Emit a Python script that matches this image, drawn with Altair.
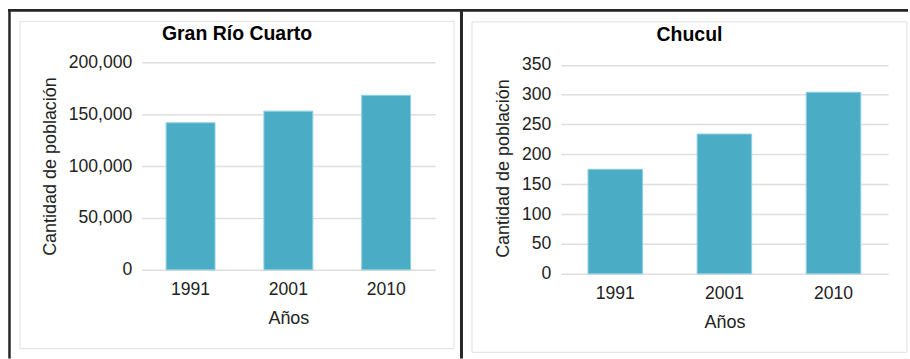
import altair as alt
import pandas as pd

# Census years and population counts
years = ["1991", "2001", "2010"]
gran_rio_cuarto = [141700, 152900, 168100]
chucul = [175, 234, 304]

panel_titles = ["Gran Río Cuarto", "Chucul"]
y_title = "Cantidad de población"
x_title = "Años"

left_ticks = [0, 50000, 100000, 150000, 200000]
right_ticks = [0, 50, 100, 150, 200, 250, 300, 350]

BAR = "#4bacc6"
FONT = "Liberation Sans"
INK = "#222222"
FRAME = "#e0e0e0"
BORDER = "#262626"

one = pd.DataFrame({"k": [0]})


def bars(values, y_max, ticks, fmt):
    df = pd.DataFrame({"anio": years, "poblacion": values})
    return alt.Chart(df).mark_bar(color=BAR, stroke="#8fcfe0", strokeWidth=1).encode(
        x=alt.X(
            "anio:N",
            sort=years,
            title=x_title,
            scale=alt.Scale(paddingInner=0.5, paddingOuter=0.25),
            axis=alt.Axis(labelAngle=0, grid=False, labelPadding=11, titlePadding=11),
        ),
        y=alt.Y(
            "poblacion:Q",
            title=y_title,
            scale=alt.Scale(domain=[0, y_max], nice=False, zero=True),
            axis=alt.Axis(values=ticks, format=fmt, labelPadding=10, titlePadding=9),
        ),
    )


def box(x1, x2, y1, y2, **style):
    return alt.Chart(one).mark_rect(**style).encode(
        x=alt.value(x1), x2=alt.value(x2), y=alt.value(y1), y2=alt.value(y2)
    )


def rule(x1, x2, y1, y2, color, width):
    return alt.Chart(one).mark_rule(color=color, strokeWidth=width).encode(
        x=alt.value(x1), x2=alt.value(x2), y=alt.value(y1), y2=alt.value(y2)
    )


def heading(text, x, y):
    return alt.Chart(one).mark_text(
        text=text, font=FONT, fontSize=19.5, fontWeight="bold", color="#000000",
        align="center", baseline="alphabetic",
    ).encode(x=alt.value(x), y=alt.value(y))


# Left panel: plot area origin sits at (142, 62) on the page
LX, LY = 142, 62
left = alt.layer(
    # page extent (invisible), anchors the layout at the top-left corner
    box(-LX, 910 - LX, -LY, 359 - LY, fillOpacity=0, strokeWidth=0),
    # table-like outer borders
    rule(8 - LX, 910 - LX, 10 - LY, 10 - LY, BORDER, 3),
    rule(9.5 - LX, 9.5 - LX, 9 - LY, 359 - LY, BORDER, 2.5),
    rule(462.5 - LX, 462.5 - LX, 9 - LY, 359 - LY, BORDER, 3),
    # light frame around the panel
    box(20 - LX, 455 - LX, 21 - LY, 349 - LY, fillOpacity=0, stroke=FRAME, strokeWidth=1),
    heading(panel_titles[0], 237.5 - LX, 39.3 - LY),
    bars(gran_rio_cuarto, 200000, left_ticks, ",d"),
).properties(width=294, height=208)

# Right panel: plot area origin sits at (562, 62) on the page
RX, RY = 562, 62
right = alt.layer(
    box(473 - RX, 909 - RX, 21.5 - RY, 352.7 - RY, fillOpacity=0, stroke=FRAME, strokeWidth=1),
    heading(panel_titles[1], 691 - RX, 40.5 - RY),
    bars(chucul, 354.2, right_ticks, "d"),
).properties(width=328, height=212)

chart = alt.hconcat(left, right, spacing=126, bounds="flush").properties(
    padding=0, background="white"
).configure_view(strokeWidth=0).configure_axis(
    labelFont=FONT,
    labelFontSize=17.6,
    labelColor=INK,
    titleFont=FONT,
    titleFontSize=18,
    titleFontWeight="normal",
    titleColor=INK,
    domain=False,
    ticks=False,
    tickSize=0,
    gridColor="#dedede",
    gridWidth=1.5,
)

chart.save("out.html", embed_options={"renderer": "svg", "actions": False})
